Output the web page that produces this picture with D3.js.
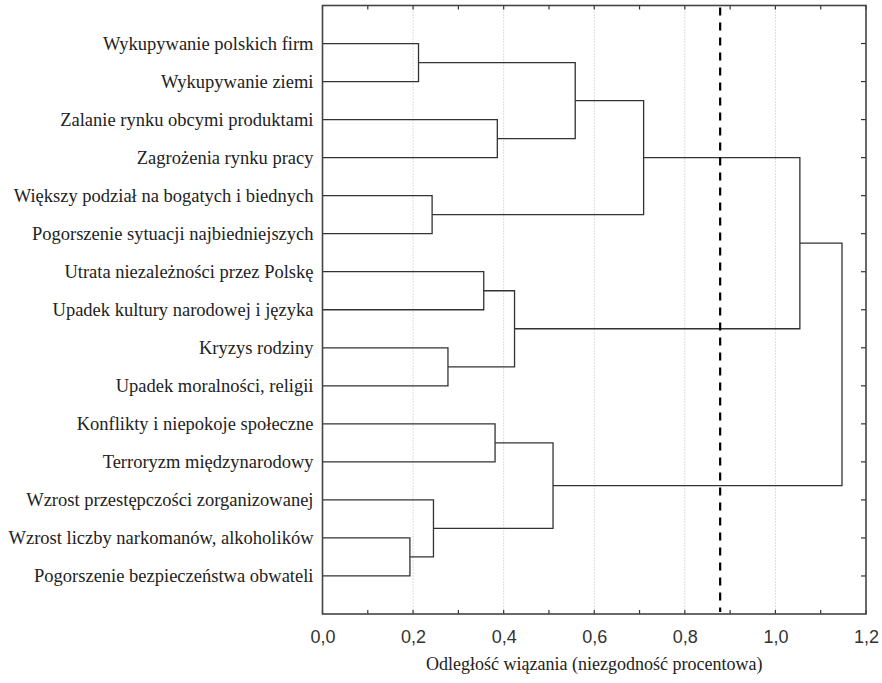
<!DOCTYPE html>
<html>
<head>
<meta charset="utf-8">
<script src="https://cdn.jsdelivr.net/npm/d3@7/dist/d3.min.js"></script>
<style>
  html, body { margin: 0; padding: 0; background: #fff; }
  svg { display: block; }
</style>
</head>
<body>
<svg id="chart" width="882" height="683"></svg>
<script>
// ---- Data ----
const leafLabels = [
  "Wykupywanie polskich firm",
  "Wykupywanie ziemi",
  "Zalanie rynku obcymi produktami",
  "Zagrożenia rynku pracy",
  "Większy podział na bogatych i biednych",
  "Pogorszenie sytuacji najbiedniejszych",
  "Utrata niezależności przez Polskę",
  "Upadek kultury narodowej i języka",
  "Kryzys rodziny",
  "Upadek moralności, religii",
  "Konflikty i niepokoje społeczne",
  "Terroryzm międzynarodowy",
  "Wzrost przestępczości zorganizowanej",
  "Wzrost liczby narkomanów, alkoholików",
  "Pogorszenie bezpieczeństwa obwateli"
];
// merges: node index = 15 + position; children refer to leaf (0..14) or node indices
const mergeLeft   = [0, 2, 15, 4, 17, 6, 8, 20, 19, 10, 13, 12, 24, 23];
const mergeRight  = [1, 3, 16, 5, 18, 7, 9, 21, 22, 11, 14, 25, 26, 27];
const mergeHeight = [0.212, 0.386, 0.558, 0.242, 0.709, 0.356, 0.277, 0.424, 1.054, 0.381, 0.193, 0.245, 0.509, 1.147];
const cutHeight = 0.878;
const xTicks = [0, 0.2, 0.4, 0.6, 0.8, 1.0, 1.2];
const xMinorTicks = [0, 0.1, 0.2, 0.3, 0.4, 0.5, 0.6, 0.7, 0.8, 0.9, 1.0, 1.1, 1.2];
const xTitle = "Odległość wiązania (niezgodność procentowa)";

// ---- Layout ----
const SERIF = '"Liberation Serif", "Times New Roman", serif';
const SANS = '"Liberation Sans", Arial, sans-serif';
const L = 322.5, R = 866, T = 5.5, B = 614;
const svg = d3.select("#chart");
const x = d3.scaleLinear().domain([0, 1.2]).range([L, R]);
const y = d3.scalePoint().domain(d3.range(leafLabels.length)).range([T, B]).padding(1);

// grid
svg.append("g").selectAll("line").data(xTicks.slice(1, -1)).join("line")
  .attr("x1", d => x(d)).attr("x2", d => x(d))
  .attr("y1", T).attr("y2", B)
  .attr("stroke", "#bbb").attr("stroke-width", 1)
  .attr("stroke-dasharray", "1,2");

// compute node positions
const nodeY = leafLabels.map((_, i) => y(i));
const nodeH = leafLabels.map(() => 0);
mergeLeft.forEach((a, k) => {
  const b = mergeRight[k];
  nodeY.push((nodeY[a] + nodeY[b]) / 2);
  nodeH.push(mergeHeight[k]);
});

// dendrogram links
svg.append("g").selectAll("path").data(mergeLeft.map((a, k) => ({a, b: mergeRight[k], h: mergeHeight[k]})))
  .join("path")
  .attr("d", d => `M${x(nodeH[d.a])},${nodeY[d.a]}H${x(d.h)}V${nodeY[d.b]}H${x(nodeH[d.b])}`)
  .attr("fill", "none").attr("stroke", "#333").attr("stroke-width", 1.3);

// cut line
svg.append("line")
  .attr("x1", x(cutHeight)).attr("x2", x(cutHeight))
  .attr("y1", T + 2).attr("y2", B - 2)
  .attr("stroke", "#000").attr("stroke-width", 2.2)
  .attr("stroke-dasharray", "8,7");

// bottom axis labels
const bottom = d3.axisBottom(x).tickValues(xTicks).tickSize(0).tickPadding(16)
  .tickFormat(d => d3.format(".1f")(d).replace(".", ","));
const gB = svg.append("g").attr("transform", `translate(0,${B})`).call(bottom);
gB.select(".domain").remove();
gB.selectAll("text").style("font-family", SANS).style("font-size", "18px").attr("fill", "#333");

// minor ticks inward, top & bottom
const tickG = svg.append("g").attr("stroke", "#333").attr("stroke-width", 1.2);
tickG.selectAll(".tb").data(xMinorTicks).join("line")
  .attr("x1", d => x(d)).attr("x2", d => x(d)).attr("y1", B).attr("y2", B - 4);
tickG.selectAll(".tt").data(xMinorTicks).join("line")
  .attr("x1", d => x(d)).attr("x2", d => x(d)).attr("y1", T).attr("y2", T + 4);
// right ticks inward at leaves
tickG.selectAll(".tr").data(d3.range(leafLabels.length)).join("line")
  .attr("x1", R).attr("x2", R - 5).attr("y1", d => y(d)).attr("y2", d => y(d));

// frame
svg.append("rect").attr("x", L).attr("y", T).attr("width", R - L).attr("height", B - T)
  .attr("fill", "none").attr("stroke", "#444").attr("stroke-width", 1.6);

// left labels
const left = d3.axisLeft(y).tickSize(0).tickPadding(9).tickFormat(i => leafLabels[i]);
const gL = svg.append("g").attr("transform", `translate(${L},0)`).call(left);
gL.select(".domain").remove();
gL.selectAll("text").style("font-family", SERIF).style("font-size", "18.5px").attr("fill", "#222");

// x title
svg.append("text")
  .attr("x", (L + R) / 2).attr("y", 670)
  .attr("text-anchor", "middle")
  .style("font-family", SERIF).style("font-size", "18px").attr("fill", "#222")
  .text(xTitle);
</script>
</body>
</html>
